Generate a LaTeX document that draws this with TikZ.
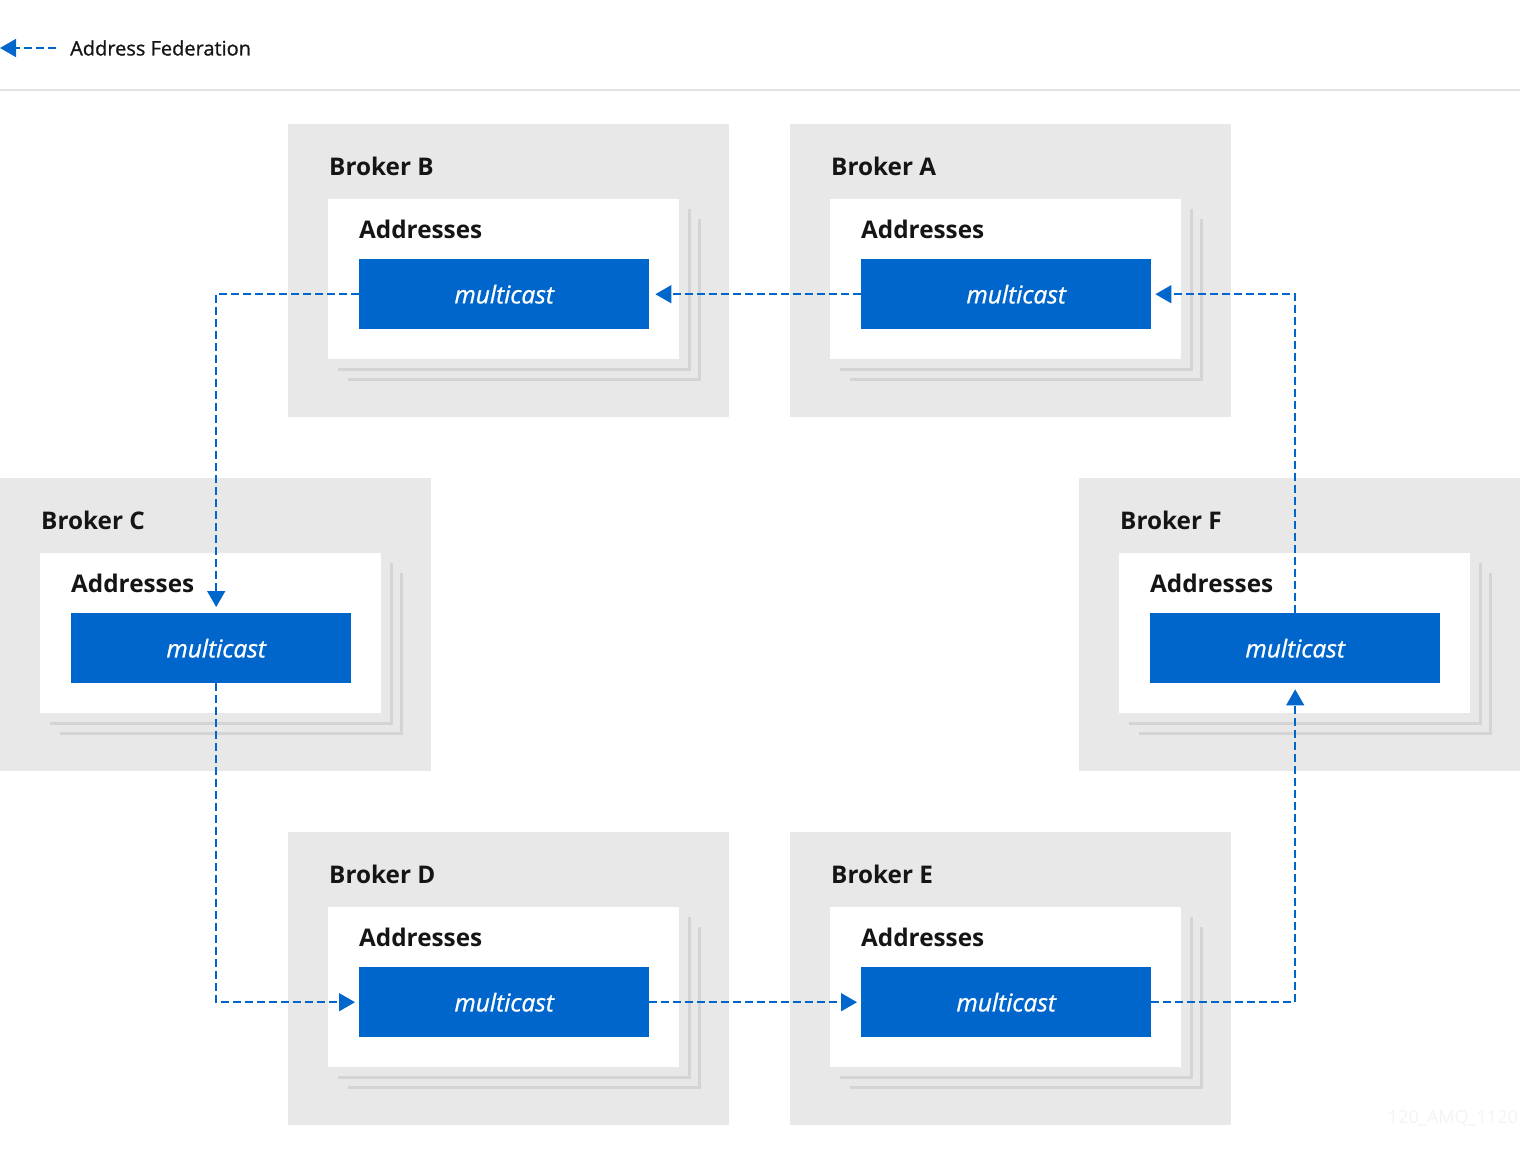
\documentclass[tikz,border=0pt]{standalone}
\usepackage{fontspec}
\setmainfont{Open Sans}
\newfontfamily\semifont[FakeBold=0.9,ItalicFeatures={FakeBold=0.9}]{Open Sans}
\usetikzlibrary{arrows.meta,calc}
\definecolor{brokergray}{HTML}{E8E8E8}
\definecolor{stackgray}{HTML}{D4D4D4}
\definecolor{sepgray}{HTML}{E2E2E2}
\definecolor{rhblue}{HTML}{0066CC}
\definecolor{txtblack}{HTML}{151515}
\definecolor{wmgray}{HTML}{F3F3F3}
\tikzset{
  brokerbox/.style={fill=brokergray, anchor=north west, inner sep=0pt, minimum height=293pt},
  innerbox/.style={fill=white, anchor=north west, inner sep=0pt, minimum height=160pt},
  bluebox/.style={fill=rhblue, anchor=north west, inner sep=0pt, minimum height=70pt,
    text=white, font=\semifont\fontsize{24.5}{28}\selectfont\itshape},
  titletext/.style={anchor=west, inner sep=0pt, text=txtblack, font=\fontsize{24.3}{28}\selectfont\bfseries},
  stackline/.style={draw=stackgray, line width=3pt},
  fed/.style={draw=rhblue, line width=1.6pt, dash pattern=on 8pt off 4pt,
    -{Triangle[length=16pt,width=18pt]}, color=rhblue},
}
\begin{document}
\begin{tikzpicture}[x=1pt,y=-1pt]
\useasboundingbox (0,0) rectangle (1520,1161);
% legend
\coordinate (lg0) at (56,48);
\coordinate (lg1) at (0,48);
\draw[fed] (lg0) -- (lg1);
\node[anchor=west, inner sep=0pt, text=txtblack, font=\semifont\fontsize{20}{24}\selectfont] (legtxt) at (70,48) {Address Federation};
\draw[sepgray, line width=2pt] (0,90) -- (1520,90);
% brokers
\foreach \n/\x/\y/\gw/\iw/\bw/\ts in {B/288/124/441/351/290/0, A/790/124/441/351/290/20, C/0/478/431/341/280/10, F/1079/478/441/351/290/0, D/288/832/441/351/290/0, E/790/832/441/351/290/0}{
  \node[brokerbox, minimum width=\gw pt] (g\n) at (\x,\y) {};
  \node[titletext] (t\n) at (\x+41,\y+42) {Broker \n};
  \draw[stackline] ($(\x+40,\y+75)+(\iw+10,10)$) -- ++(0,160) -- ++(-\iw,0);
  \draw[stackline] ($(\x+40,\y+75)+(\iw+20,20)$) -- ++(0,160) -- ++(-\iw,0);
  \node[innerbox, minimum width=\iw pt] (w\n) at (\x+40,\y+75) {};
  \node[titletext] (a\n) at (\x+71,\y+105) {Addresses};
  \node[bluebox, minimum width=\bw pt] (m\n) at (\x+71,\y+135) {\hspace*{\ts pt}multicast};
}
% federation connectors
\draw[fed, shorten >=6pt] (mA.west) -- (mB.east);
\draw[fed, shorten >=6pt] (mB.west) -| ([xshift=5pt]mC.north);
\draw[fed, shorten >=4pt] ([xshift=5pt]mC.south) |- (mD.west);
\draw[fed, shorten >=4pt] (mD.east) -- (mE.west);
\draw[fed, shorten >=6pt] (mE.east) -| (mF.south);
\draw[fed, shorten >=4pt] (mF.north) |- (mA.east);
% watermark
\node[anchor=east, inner sep=0pt, text=wmgray, font=\fontsize{18}{22}\selectfont] (wm) at (1518,1118) {120\_AMQ\_1120};
\end{tikzpicture}
\end{document}
